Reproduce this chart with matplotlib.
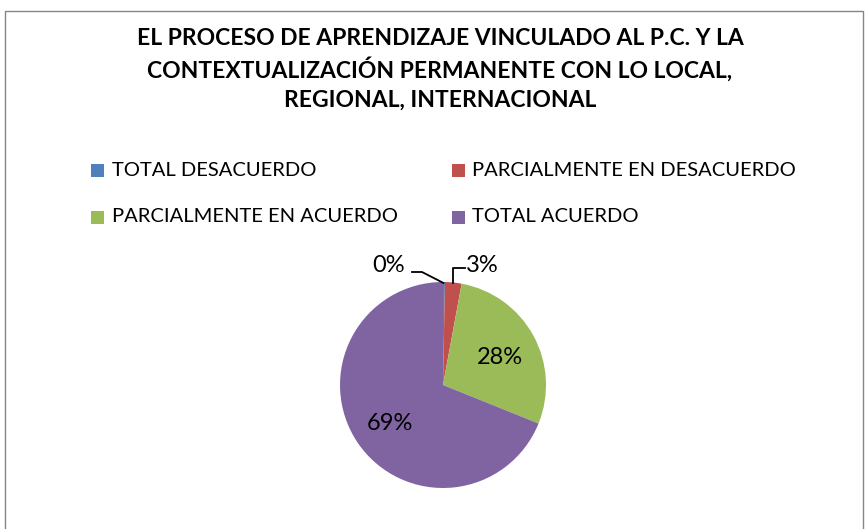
import matplotlib
matplotlib.use("Agg")
import matplotlib.pyplot as plt
from matplotlib.patches import Rectangle
import numpy as np

title = "EL PROCESO DE APRENDIZAJE VINCULADO AL P.C. Y LA\nCONTEXTUALIZACIÓN PERMANENTE CON LO LOCAL,\nREGIONAL, INTERNACIONAL"
categories = ["TOTAL DESACUERDO", "PARCIALMENTE EN DESACUERDO",
              "PARCIALMENTE EN ACUERDO", "TOTAL ACUERDO"]
values = [0.3, 2.6, 28.2, 68.9]
colors = ["#4F81BD", "#C0504D", "#9BBB59", "#8064A2"]

plt.rcParams['font.family'] = ['Lato', 'DejaVu Sans']

W, H = 865, 529
fig = plt.figure(figsize=(W/100, H/100), dpi=100)
ax = fig.add_axes([0, 0, 1, 1])

def py(y):
    return H - y

cx, cy, R = 443, py(385), 103
wedges, _ = ax.pie(values, colors=colors, startangle=90, counterclock=False,
                   center=(cx, cy), radius=R, frame=True,
                   wedgeprops=dict(linewidth=0))
ax.set_xlim(0, W)
ax.set_ylim(0, H)
ax.axis('off')

# border
ax.add_patch(Rectangle((5, -5), 857.5, H - 10 + 5 - 0.5, fill=False,
                       edgecolor='#868686', linewidth=1.0))

ax.text(440, py(69), title, ha='center', va='center', fontsize=16.5,
        fontweight='bold', linespacing=1.42, color='black')

# legend
leg_pos = [(97.5, 170), (458, 170), (97.5, 217), (458, 217)]
for (lx, ly), c, lab in zip(leg_pos, colors, categories):
    ax.add_patch(Rectangle((lx - 6.5, py(ly) - 6.5), 13, 13, color=c, lw=0))
    ax.text(lx + 14, py(ly), lab, ha='left', va='center', fontsize=14.5,
            color='black')

labels = [f"{round(v):.0f}%" for v in values]
# outside labels with leader lines
ax.text(389, py(265), labels[0], ha='center', va='center', fontsize=17)
ax.plot([412, 422, 443.5], [py(272), py(272), py(283)], color='black', lw=1.3)
ax.text(482, py(265), labels[1], ha='center', va='center', fontsize=17)
ax.plot([465, 453, 453], [py(268), py(268), py(283)], color='black', lw=1.3)
# inside labels
ax.text(499.5, py(357.5), labels[2], ha='center', va='center', fontsize=17)
ax.text(389.5, py(423.5), labels[3], ha='center', va='center', fontsize=17)

fig.savefig("out.png", dpi=100)
